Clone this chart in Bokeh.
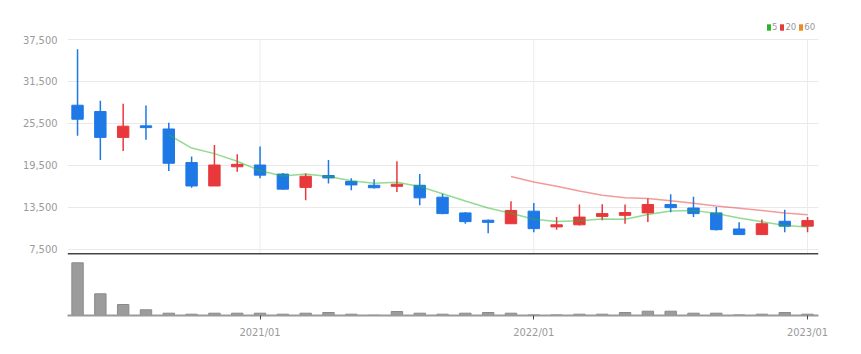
import math
import pandas as pd
from bokeh.plotting import figure
from bokeh.layouts import column
from bokeh.models import (ColumnDataSource, Range1d, FixedTicker, NumeralTickFormatter,
                          Legend, LegendItem, Span)
from bokeh.embed import file_html
from bokeh.resources import INLINE

# ---------------- data ----------------
months = ["2020/05", "2020/06", "2020/07", "2020/08", "2020/09", "2020/10", "2020/11", "2020/12",
          "2021/01", "2021/02", "2021/03", "2021/04", "2021/05", "2021/06", "2021/07", "2021/08",
          "2021/09", "2021/10", "2021/11", "2021/12", "2022/01", "2022/02", "2022/03", "2022/04",
          "2022/05", "2022/06", "2022/07", "2022/08", "2022/09", "2022/10", "2022/11", "2022/12",
          "2023/01"]
opens = [28100, 27200, 23500, 25150, 24700, 19900, 16550, 19300, 19550, 18250, 16350, 18050,
         17200, 16650, 16500, 16650, 14950, 12700, 11650, 11150, 12950, 10700, 11000, 12200,
         12350, 12700, 13900, 13400, 12700, 10400, 9600, 11500, 10800]
highs = [36100, 28750, 28300, 28050, 25600, 20750, 22400, 21100, 22200, 18400, 18350, 20250,
         17650, 17500, 20100, 18250, 15450, 12800, 11750, 14350, 14100, 12100, 13900, 13950,
         13900, 14750, 15350, 15000, 13550, 11350, 11750, 13150, 12100]
lows = [23750, 20250, 21550, 23150, 18700, 16300, 16550, 18600, 17650, 16000, 14500, 16900,
        15950, 16200, 15700, 13800, 12500, 11150, 9800, 11150, 9950, 10300, 10900, 11650,
        11150, 11400, 12800, 12100, 10200, 9600, 9600, 9950, 9950]
closes = [26100, 23500, 25100, 24900, 19800, 16550, 19550, 19650, 18100, 16100, 17950, 17700,
          16700, 16300, 16800, 14850, 12600, 11450, 11350, 13050, 10450, 11000, 12100, 12600,
          12750, 13900, 13450, 12600, 10300, 9600, 11150, 10800, 11600]
volumes = [5270000, 2170000, 1100000, 570000, 230000, 130000, 230000, 230000, 230000, 130000,
           230000, 300000, 130000, 30000, 400000, 230000, 130000, 230000, 300000, 230000,
           60000, 60000, 130000, 130000, 300000, 430000, 430000, 230000, 230000, 60000,
           130000, 300000, 130000]
ma_windows = [5, 20, 60]
ma_labels = ["5", "20", "60"]
ma_colors = ["#27b827", "#e83838", "#f08a1c"]
price_ticks = [7500, 13500, 19500, 25500, 31500, 37500]
year_labels = ["2021/01", "2022/01", "2023/01"]

UP = "#e8383c"
DOWN = "#1e78e6"
FONT = "Liberation Sans Narrow, DejaVu Sans Condensed, Roboto"
LABEL_COLOR = "#9a9a9a"

idx = list(range(len(months)))
colors = [UP if c >= o else DOWN for o, c in zip(opens, closes)]
src = ColumnDataSource(dict(
    x=idx, open=opens, high=highs, low=lows, close=closes,
    top=[max(o, c) for o, c in zip(opens, closes)],
    bottom=[min(o, c) for o, c in zip(opens, closes)],
    color=colors, vol=volumes,
))
year_idx = [months.index(m) for m in year_labels]

x_range = Range1d(-0.44, len(months) - 1 + 0.48)

# price frame spans y=14..254 px; 37,500 sits at y=39 px
y_lo = 6750
px_per_unit = (254 - 39) / (max(price_ticks) - y_lo)
y_hi = max(price_ticks) + (39 - 14) / px_per_unit

# ---------------- price panel ----------------
p = figure(width=861, height=256, x_range=x_range, y_range=Range1d(y_lo, y_hi),
           output_backend="svg", toolbar_location=None,
           min_border_top=14, min_border_bottom=2, min_border_left=67, min_border_right=43)
p.outline_line_color = None
p.xaxis.visible = False
p.yaxis.ticker = FixedTicker(ticks=price_ticks)
p.yaxis.formatter = NumeralTickFormatter(format="0,0")
p.yaxis.axis_line_color = None
p.yaxis.major_tick_line_color = None
p.yaxis.minor_tick_line_color = None
p.yaxis.major_label_text_font = FONT
p.yaxis.major_label_text_font_size = "11px"
p.yaxis.major_label_text_color = LABEL_COLOR
p.yaxis.major_label_standoff = 4
p.ygrid.ticker = FixedTicker(ticks=price_ticks)
p.ygrid.grid_line_color = "#e9e9e9"
p.xgrid.grid_line_color = None

# vertical year grid lines, only up to the top price tick
p.segment(x0=year_idx, x1=year_idx, y0=[y_lo] * len(year_idx),
          y1=[max(price_ticks)] * len(year_idx), line_color="#ececec", line_width=1)

p.segment(x0="x", y0="high", x1="x", y1="low", color="color", line_width=1.5, source=src)
p.vbar(x="x", width=0.5, top="top", bottom="bottom", fill_color="color", line_color="color",
       line_width=1, source=src)

close_s = pd.Series(closes, dtype=float)
items = []
for w, lab, col in zip(ma_windows, ma_labels, ma_colors):
    ma = close_s.rolling(w).mean()
    xs = [i for i, v in zip(idx, ma) if pd.notna(v)]
    ys = [v for v in ma if pd.notna(v)]
    if xs:
        p.line(xs, ys, line_color=col, line_alpha=0.5, line_width=1.5)
    # swatch renderer for the legend only (NaN coordinates, never drawn in the plot)
    r = p.quad(left=[math.nan], right=[math.nan], top=[math.nan], bottom=[math.nan],
               fill_color=col, line_color=None)
    items.append(LegendItem(label=lab, renderers=[r]))

legend = Legend(items=items, orientation="horizontal", location=(699, 222),
                glyph_width=5, glyph_height=8, label_standoff=1, spacing=2, padding=0, margin=0,
                label_width=0, label_height=8,
                label_text_font=FONT, label_text_font_size="9.5px", label_text_color=LABEL_COLOR,
                border_line_color=None, background_fill_alpha=0)
p.add_layout(legend, "center")

p.add_layout(Span(location=y_lo, dimension="width", line_color="#444444", line_width=3))

# ---------------- volume panel ----------------
v = figure(width=861, height=98, x_range=x_range, y_range=Range1d(0, 5800000),
           output_backend="svg", toolbar_location=None,
           min_border_top=1, min_border_bottom=39, min_border_left=67, min_border_right=43)
v.outline_line_color = None
v.yaxis.visible = False
v.grid.grid_line_color = None
v.vbar(x="x", width=0.5, top="vol", bottom=0, fill_color="#9c9c9c", line_color="#8a8a8a",
       source=src)
v.xaxis.ticker = FixedTicker(ticks=year_idx)
v.xaxis.major_label_overrides = {i: m for i, m in zip(year_idx, year_labels)}
v.xaxis.axis_line_color = "#9a9a9a"
v.xaxis.axis_line_width = 2
v.xaxis.major_tick_line_color = "#444444"
v.xaxis.major_tick_out = 4
v.xaxis.major_tick_in = 0
v.xaxis.minor_tick_line_color = None
v.xaxis.major_label_text_font = FONT
v.xaxis.major_label_text_font_size = "11px"
v.xaxis.major_label_text_color = LABEL_COLOR
v.xaxis.major_label_standoff = 6

layout = column(p, v, spacing=0)
open("out.html", "w").write(file_html(layout, INLINE))
